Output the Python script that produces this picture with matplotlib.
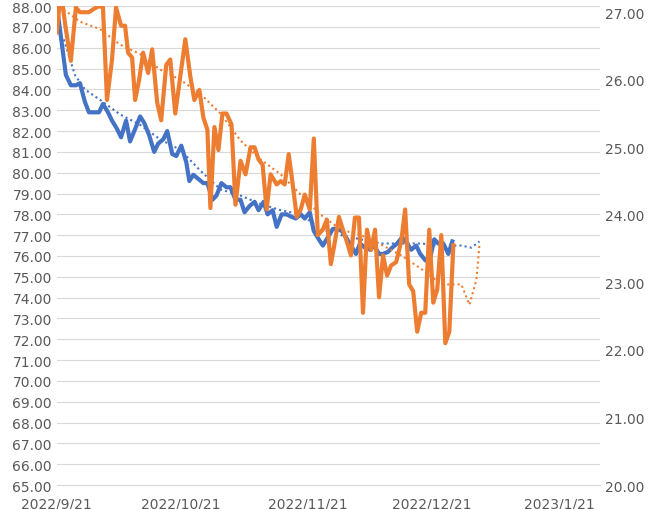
import matplotlib
matplotlib.use("Agg")
import matplotlib.pyplot as plt
import numpy as np
import datetime as dt

start = dt.date(2022, 9, 21)
px_per_day = 4.1
blue_px = [57,62,66,71,76,80,85,89,94,99,103,108,112,117,121,126,130,135,140,144,149,154,158,163,167,172,176,181,186,189,193,198,203,207,212,216,221,226,230,235,240,244,249,254,258,263,267,272,276,281,286,290,295,300,304,309,313,318,322,327,332,336,341,345,350,355,359,364,369,373,378,382,387,391,396,401,406,410,415,419,424,428,433,437,442,447,451]
blue_val = [88.0,86.2,84.7,84.2,84.2,84.3,83.4,82.9,82.9,82.9,83.3,82.9,82.5,82.1,81.7,82.5,81.5,82.1,82.7,82.4,81.8,81.0,81.4,81.6,82.0,80.9,80.8,81.3,80.5,79.6,79.9,79.7,79.5,79.5,78.7,78.9,79.5,79.3,79.3,78.7,78.7,78.1,78.4,78.6,78.2,78.6,78.0,78.2,77.4,78.0,78.0,77.9,77.8,78.0,77.8,78.1,77.2,76.8,76.5,76.9,77.3,77.3,77.2,76.9,76.5,76.1,76.6,76.4,76.3,76.5,76.1,76.1,76.2,76.4,76.6,76.9,76.6,76.3,76.5,76.1,75.8,75.7,76.8,76.6,76.6,76.1,76.7]
orange_px = [57,61,66,71,76,80,85,89,94,99,103,107,112,116,121,125,128,132,135,139,143,148,152,157,161,166,170,175,180,185,190,194,199,203,207,210,214,218,222,226,231,235,240,245,250,254,258,262,266,270,276,280,284,288,292,296,300,304,309,313,317,322,326,330,334,338,342,346,350,354,358,362,366,370,374,378,382,386,390,395,400,404,408,412,416,420,424,428,432,436,440,444,448,452]
orange_val = [26.7,27.3,26.75,26.28,27.07,27.0,27.0,27.0,27.05,27.09,27.07,25.7,26.3,27.07,26.8,26.8,26.4,26.33,25.7,26.0,26.4,26.1,26.45,25.66,25.4,26.22,26.3,25.5,26.05,26.6,26.05,25.7,25.85,25.44,25.26,24.1,25.3,24.96,25.5,25.5,25.34,24.15,24.8,24.6,25.0,25.0,24.82,24.74,24.08,24.6,24.45,24.5,24.45,24.9,24.45,23.97,24.08,24.3,24.08,25.13,23.7,23.78,23.93,23.27,23.6,23.97,23.78,23.6,23.4,23.96,23.96,22.55,23.78,23.48,23.78,22.78,23.4,23.1,23.25,23.3,23.6,24.08,22.97,22.87,22.27,22.55,22.55,23.78,22.7,22.9,23.7,22.1,22.27,23.55]
blue_trend_px = [64,75,85,100,120,140,160,180,200,220,240,260,280,300,320,340,360,380,400,420,440,460,470,478]
blue_trend_val = [86.4,84.7,84.0,83.5,82.8,82.3,81.6,81.1,80.1,79.2,78.9,78.5,78.2,78.0,77.3,77.0,76.8,76.6,76.6,76.6,76.5,76.5,76.4,76.7]
orange_trend_px = [64,80,100,120,140,160,180,200,220,240,260,280,300,320,340,360,380,400,420,440,460,468,475,478]
orange_trend_val = [27.04,26.86,26.75,26.52,26.38,26.15,26.0,25.79,25.5,25.1,24.82,24.6,24.3,24.0,23.78,23.7,23.56,23.4,23.2,22.97,22.97,22.67,23.04,23.56]

def days(px):
    return np.array([(p - 57) / px_per_day for p in px])

blue_c = "#4472C4"; orange_c = "#ED7D31"
fig = plt.figure(figsize=(6.53, 5.10), dpi=100)
ax = fig.add_axes([0.087, 0.047, 0.832, 0.939])
ax2 = ax.twinx()
ax.plot(days(blue_px), blue_val, color=blue_c, lw=3, zorder=3)
ax.plot(days(blue_trend_px), blue_trend_val, color=blue_c, lw=1.5, ls=(0, (1, 1.5)), zorder=3)
ax2.plot(days(orange_px), orange_val, color=orange_c, lw=3)
ax2.plot(days(orange_trend_px), orange_trend_val, color=orange_c, lw=1.5, ls=(0, (1, 1.5)))
ax.set_ylim(65, 88)
ax2.set_ylim(20, 27.09)
ax.set_yticks(np.arange(65, 88.1, 1))
ax.set_yticklabels([f"{v:.2f}" for v in np.arange(65, 88.1, 1)])
ax2.set_yticks(np.arange(20, 27.1, 1))
ax2.set_yticklabels([f"{v:.2f}" for v in np.arange(20, 27.1, 1)])
ticks = [dt.date(2022, 9, 21), dt.date(2022, 10, 21), dt.date(2022, 11, 21), dt.date(2022, 12, 21), dt.date(2023, 1, 21)]
ax.set_xticks([(t - start).days for t in ticks])
ax.set_xticklabels([f"{t.year}/{t.month}/{t.day}" for t in ticks])
ax.set_xlim(0, 132)
ax.grid(axis="y", color="#D9D9D9", lw=0.8)
ax.set_axisbelow(True)
for a in (ax, ax2):
    for s in ("top", "left", "right"):
        a.spines[s].set_visible(False)
    a.spines["bottom"].set_color("#D9D9D9")
    a.tick_params(length=0, labelsize=10, colors="#595959")
ax.tick_params(axis="x", pad=8)
ax2.spines["bottom"].set_visible(False)
fig.savefig("out.png")
